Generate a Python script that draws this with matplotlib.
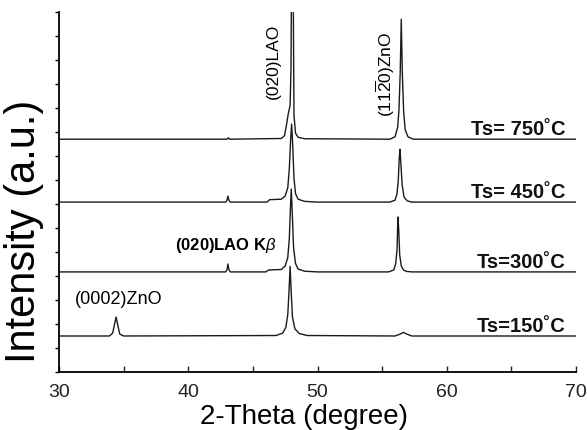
import matplotlib
matplotlib.use("Agg")
from matplotlib import pyplot as plt

plt.rcParams['font.family'] = ['Liberation Sans', 'DejaVu Sans']
plt.rcParams['mathtext.fontset'] = 'custom'
plt.rcParams['mathtext.rm'] = 'Liberation Sans'
plt.rcParams['mathtext.it'] = 'Liberation Sans:italic'
plt.rcParams['mathtext.bf'] = 'Liberation Sans:bold'

# XRD scans, intensity above each baseline (a.u.)
x150 = [30, 33.9, 34.15, 34.3, 34.42, 34.55, 34.7, 35.0, 46.8, 47.3, 47.55, 47.7, 47.8,
        47.88, 47.96, 48.06, 48.25, 48.6, 49.2, 56.0, 56.4, 56.65, 56.9, 57.3, 70]
y150 = [0, 0, 0.12, 0.5, 0.79, 0.45, 0.08, 0, 0.02, 0.12, 0.35, 0.9, 1.9,
        2.9, 1.9, 0.8, 0.3, 0.1, 0.02, 0, 0.08, 0.15, 0.08, 0, 0]

x300 = [30, 42.9, 43.0, 43.07, 43.14, 43.25, 46.0, 46.2, 47.2, 47.5, 47.7, 47.82, 47.9,
        47.97, 48.05, 48.15, 48.3, 48.5, 49.0, 50.0, 55.5, 55.9, 56.05, 56.15, 56.22,
        56.28, 56.36, 56.48, 56.65, 56.9, 57.3, 70]
y300 = [0, 0, 0.1, 0.33, 0.1, 0, 0, 0.08, 0.1, 0.25, 0.6, 1.4, 2.6,
        3.45, 2.4, 1.0, 0.35, 0.12, 0.03, 0, 0, 0.08, 0.35, 0.9, 2.29,
        1.8, 0.7, 0.25, 0.08, 0.02, 0, 0]

x450 = [30, 42.9, 43.0, 43.07, 43.14, 43.25, 46.1, 46.3, 47.2, 47.5, 47.7, 47.82, 47.92,
        48.0, 48.08, 48.18, 48.3, 48.5, 49.0, 50.0, 55.6, 56.0, 56.15, 56.25, 56.32,
        56.38, 56.45, 56.55, 56.7, 56.95, 57.3, 70]
y450 = [0, 0, 0.08, 0.25, 0.08, 0, 0, 0.1, 0.12, 0.25, 0.6, 1.4, 2.6,
        3.25, 2.4, 1.0, 0.35, 0.12, 0.03, 0, 0, 0.08, 0.35, 0.9, 1.8,
        2.2, 1.6, 0.7, 0.2, 0.05, 0, 0]

x750 = [30, 43.0, 43.1, 43.2, 47.2, 47.45, 47.6, 47.75, 47.88, 47.95, 48.0, 48.05, 48.1,
        48.18, 48.3, 48.5, 49.0, 55.6, 56.0, 56.2, 56.3, 56.4, 56.48, 56.56, 56.66,
        56.78, 57.0, 57.4, 70]
y750 = [0, 0, 0.06, 0, 0.03, 0.15, 0.6, 1.1, 1.4, 3.0, 8.0, 12.0, 8.0,
        1.0, 0.25, 0.08, 0.02, 0, 0.1, 0.5, 1.2, 2.8, 5.0, 2.8, 1.2,
        0.4, 0.1, 0, 0]

scans = [(x150, y150), (x300, y300), (x450, y450), (x750, y750)]
offsets = [1.5, 4.17, 7.08, 9.7]
labels = ['Ts=150˚C', 'Ts=300˚C', 'Ts= 450˚C', 'Ts= 750˚C']

fig = plt.figure(figsize=(5.87, 4.31), dpi=100)
ax = fig.add_axes([0.1005, 0.1346, 0.8808, 0.8352])

for (xs, ys), off, lab in zip(scans, offsets, labels):
    ax.plot(xs, [v + off for v in ys], color='#1a1a1a', lw=1.0)
    ax.text(69.2, off + 0.22, lab, ha='right', va='baseline',
            fontsize=14.5, fontweight='bold', color='#111111')

ax.text(46.6, 13.0, '(020)LAO', rotation=90, ha='center', va='center', fontsize=12.5)
ax.text(55.25, 12.45, r'(11$\mathregular{\overline{2}}$0)ZnO', rotation=90,
        ha='center', va='center', fontsize=12.5)
ax.text(31.25, 3.05, '(0002)ZnO', ha='left', va='center', fontsize=13)
ax.text(38.95, 5.33, r'(020)LAO K$\beta$', ha='left', va='center',
        fontsize=12, fontweight='bold')

ax.set_xlim(30, 70)
ax.set_ylim(0, 15)
ax.set_xticks([30, 40, 50, 60, 70])
ax.set_xticks([35, 45, 55, 65], minor=True)
ax.set_yticks(range(0, 16))
ax.set_yticklabels([])
ax.tick_params(axis='x', which='both', direction='in', length=4, width=1,
               labelsize=14, colors='#222222', pad=8)
ax.tick_params(axis='y', which='both', direction='out', length=3, width=1)
ax.spines['top'].set_visible(False)
ax.spines['right'].set_visible(False)
ax.spines['left'].set_linewidth(1.3)
ax.spines['bottom'].set_linewidth(1.3)

ax.set_xlabel('2-Theta (degree)', fontsize=20)
ax.set_ylabel('Intensity (a.u.)', fontsize=30)
ax.xaxis.set_label_coords(0.474, -0.086)
ax.yaxis.set_label_coords(-0.029, 0.394)

plt.savefig('out.png', dpi=100)
